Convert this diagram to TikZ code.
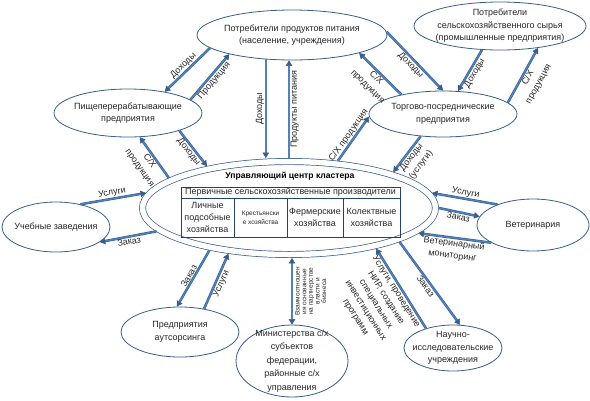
\documentclass[tikz,border=0pt]{standalone}
\usepackage{fontspec}
\setmainfont{Liberation Sans}
\usetikzlibrary{positioning,arrows.meta,shapes.geometric}
\definecolor{edge}{HTML}{385D8A}
\definecolor{flow}{HTML}{4F81BD}
\definecolor{ink}{HTML}{262626}
\definecolor{grid}{HTML}{24406E}

\begin{document}
\begin{tikzpicture}[x=1pt, y=-1pt,
  org/.style={ellipse, draw=edge, line width=0.8pt, fill=white, inner sep=-10pt, align=center, text=ink, font=\fontsize{9}{12.5}\selectfont},
  cell/.style={draw=grid, line width=0.9pt, inner sep=0pt, outer sep=0pt, minimum height=39pt, align=center, text=ink, font=\fontsize{9}{12}\selectfont},
  arr/.style={draw=edge, double=flow, double distance=1.4pt, line width=0.55pt, -{Triangle[length=5.5pt, width=6.5pt]}},
  biarr/.style={arr, {Triangle[length=5.5pt, width=6.5pt]}-{Triangle[length=5.5pt, width=6.5pt]}},
  lbl/.style={text=ink, inner sep=1.5pt, align=center, font=\fontsize{9}{12}\selectfont}]
\useasboundingbox (0,0) rectangle (590,400);
% ellipses
\node[org, minimum width=190pt, minimum height=50pt] (potr) at (292,35) {Потребители продуктов питания\\(население, учреждения)};
\node[org, minimum width=172pt, minimum height=48pt] (syr) at (500,26) {Потребители\\сельскохозяйственного сырья\\(промышленные предприятия)};
\node[org, minimum width=148pt, minimum height=48pt] (pish) at (128,113) {Пищеперерабатывающие\\предприятия};
\node[org, minimum width=148pt, minimum height=46pt] (torg) at (443,114) {Торгово-посреднические\\предприятия};
\node[org, minimum width=108pt, minimum height=50pt] (ucheb) at (56,227) {Учебные заведения};
\node[org, minimum width=112pt, minimum height=52pt] (vet) at (533,225) {Ветеринария};
\node[org, minimum width=118pt, minimum height=50pt] (auts) at (180,332) {Предприятия\\аутсорсинга};
\node[org, minimum width=112pt, minimum height=72pt, font=\fontsize{9}{13.5}\selectfont] (min) at (292,361) {Министерства с/х\\субъектов\\федерации,\\районные с/х\\управления};
\node[org, minimum width=98pt, minimum height=46pt] (nauch) at (453,348) {Научно-\\исследовательские\\учреждения};
% cluster centre
\node[ellipse, draw=edge, line width=0.7pt, double, double distance=5.5pt, minimum width=293pt, minimum height=93pt, inner sep=0pt, outer sep=3.45pt] (centr) at (289,208) {};
\node[text=black, font=\bfseries\fontsize{8.6}{11}\selectfont] (upr) at (290,176) {Управляющий центр кластера};
\node[draw=grid, line width=0.9pt, minimum width=219pt, minimum height=11pt, inner sep=0pt, outer sep=0pt, text=ink, font=\fontsize{9}{10}\selectfont] (perv) at (290.5,192.5) {Первичные сельскохозяйственные производители};
\node[cell, minimum width=53pt, below right=0pt and 0pt of perv.south west] (lich) {Личные\\подсобные\\хозяйства};
\node[cell, minimum width=53pt, right=0pt of lich, font=\fontsize{6.5}{9}\selectfont] (krest) {Крестьянски\\е хозяйства};
\node[cell, minimum width=56pt, right=0pt of krest] (ferm) {Фермерские\\хозяйства};
\node[cell, minimum width=57pt, right=0pt of ferm] (kol) {Колектвные\\хозяйства};
% flows
\draw[arr] (potr.-171) -- (pish.30) node[lbl, midway, sloped, above] {Доходы};
\draw[arr] (pish.12) -- (potr.-163) node[lbl, midway, sloped, below] {Продукция};
\draw[arr] (potr.-137) -- (potr.-137 |- centr.north) node[lbl, midway, rotate=90, anchor=south] {Доходы};
\draw[arr] (centr.north) -- (centr.north |- potr.south) node[lbl, midway, rotate=90, anchor=north] {Продукты питания};
\draw[arr] (centr.166) -- (pish.-64) node[lbl, midway, sloped, below] {С/Х\\продукция};
\draw[arr] (pish.-19) -- (centr.153) node[lbl, midway, sloped, below] {Доходы};
\draw[arr] (centr.44) -- (torg.182) node[lbl, midway, sloped, above] {С/Х продукция};
\draw[arr] (torg.155) -- (potr.-15) node[lbl, midway, sloped, below] {С/Х\\продукция};
\draw[arr] (potr.2) -- (torg.90) node[lbl, midway, sloped, below] {Доходы};
\draw[arr] (syr.-127) -- (torg.57) node[lbl, midway, sloped, below] {Доходы};
\draw[arr] (torg.10) -- (syr.-30) node[lbl, midway, sloped, below] {С/Х\\продукция};
\draw[arr] (torg.-135) -- (centr.19) node[lbl, midway, sloped, below] {Доходы\\(услуги)};
\draw[arr] (vet.150) -- (centr.6) node[lbl, midway, sloped, above] {Услуги};
\draw[arr] (centr.0) -- (vet.171) node[lbl, midway, sloped, below] {Заказ};
\draw[arr] (vet.-157) -- (centr.-11) node[lbl, midway, sloped, below] {Ветеринарный\\мониторинг};
\draw[arr] (nauch.144) -- (centr.-25) node[lbl, midway, sloped, below] {Услуги, проведение\\НИР, создание\\специальных\\инвестиционных\\программ};
\draw[arr] (centr.-17) -- (nauch.73) node[lbl, midway, sloped, below] {Заказ};
\draw[biarr] (min.north) -- (min.north |- centr.south) node[lbl, midway, rotate=90, anchor=north, inner sep=3pt, font=\fontsize{6.5}{6.6}\selectfont] {Взаимоотношен\\ия основанные\\на партнерстве\\власти и\\бизнеса};
\draw[arr] (centr.-170) -- (ucheb.-19) node[lbl, midway, sloped, below] {Заказ};
\draw[arr] (ucheb.43) -- (centr.174) node[lbl, midway, sloped, above] {Услуги};
\draw[arr] (centr.-152) -- (auts.97) node[lbl, midway, sloped, above] {Заказ};
\draw[arr] (auts.44) -- (centr.-143) node[lbl, midway, sloped, below] {Услуги};
\end{tikzpicture}
\end{document}
